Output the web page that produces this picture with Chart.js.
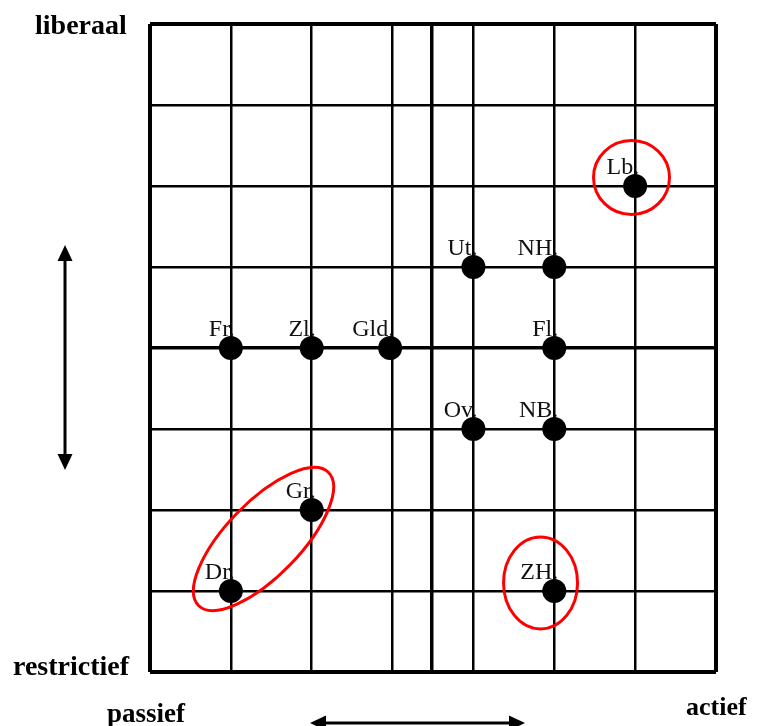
<!DOCTYPE html>
<html>
<head>
<meta charset="utf-8">
<script src="https://cdn.jsdelivr.net/npm/chart.js@4.4.0/dist/chart.umd.min.js"></script>
<style>
    body { margin: 0; background: #fff; }
    #wrap { position: relative; width: 758px; height: 726px; }
</style>
</head>
<body>
<div id="wrap"><canvas id="provincieChart" width="758" height="726"></canvas></div>
<script>
// provincies met hun positie: activiteit (passief -> actief), liberaliteit (restrictief -> liberaal)
const provincies = ['Lb.', 'Ut.', 'NH.', 'Fr.', 'Zl.', 'Gld.', 'Fl.', 'Ov.', 'NB.', 'Gr.', 'Dr.', 'ZH.'];
const activiteit = [6, 4, 5, 1, 2, 2.97, 5, 4, 5, 2, 1, 5];
const liberaliteit = [6, 5, 5, 4, 4, 4, 4, 3, 3, 2, 1, 1];

// rasterlijnen
const xLijnen = [0, 1, 2, 3, 3.48, 4, 5, 6, 7];
const yLijnen = [0, 1, 2, 3, 4, 5, 6, 7, 8];

const serif = '"Liberation Serif", "DejaVu Serif", serif';

// namen linksboven de punten
var labelPlugin = {
    id: 'labels',
    afterDatasetsDraw: function(chart) {
        var ctx = chart.ctx;
        var meta = chart.getDatasetMeta(0);
        ctx.save();
        ctx.font = '24px ' + serif;
        ctx.fillStyle = '#111';
        ctx.textAlign = 'right';
        ctx.textBaseline = 'alphabetic';
        meta.data.forEach(function(el, i) {
            ctx.fillText(provincies[i], el.x + 4, el.y - 12);
        });
        ctx.restore();
    }
};

// rode ellipsen rond Lb, ZH en Gr/Dr
var cirkelPlugin = {
    id: 'cirkels',
    afterDatasetsDraw: function(chart) {
        var ctx = chart.ctx;
        var xs = chart.scales.x, ys = chart.scales.y;
        var ellipsen = [
            { x: 5.955, y: 6.105, rx: 38, ry: 37, rot: 0 },
            { x: 4.83, y: 1.1, rx: 37, ry: 46, rot: 0 },
            { x: 1.404, y: 1.642, rx: 93, ry: 37, rot: -0.80 },
        ];
        ctx.save();
        ctx.strokeStyle = '#f00';
        ctx.lineWidth = 3;
        ellipsen.forEach(function(e) {
            ctx.beginPath();
            ctx.ellipse(xs.getPixelForValue(e.x), ys.getPixelForValue(e.y), e.rx, e.ry, e.rot, 0, Math.PI * 2);
            ctx.stroke();
        });
        ctx.restore();
    }
};

// astitels en dubbele pijlen
var assenPlugin = {
    id: 'assen',
    afterDraw: function(chart) {
        var ctx = chart.ctx;
        ctx.save();
        ctx.fillStyle = '#000';
        ctx.textAlign = 'left';
        ctx.textBaseline = 'alphabetic';
        ctx.font = 'bold 28px ' + serif;
        ctx.fillText('liberaal', 35, 34);
        ctx.fillText('restrictief', 13, 675);
        ctx.font = 'bold 27px ' + serif;
        ctx.fillText('passief', 107, 722);
        ctx.font = 'bold 26px ' + serif;
        ctx.fillText('actief', 686, 715);

        pijl(ctx, 65, 245, 65, 470);
        pijl(ctx, 310, 723, 525, 723);
        ctx.restore();
    }
};

function pijl(ctx, x1, y1, x2, y2) {
    var hoek = Math.atan2(y2 - y1, x2 - x1);
    var lengte = 16, breedte = 7.5;
    ctx.strokeStyle = '#000';
    ctx.lineWidth = 3;
    ctx.beginPath();
    ctx.moveTo(x1 + Math.cos(hoek) * lengte, y1 + Math.sin(hoek) * lengte);
    ctx.lineTo(x2 - Math.cos(hoek) * lengte, y2 - Math.sin(hoek) * lengte);
    ctx.stroke();
    [[x1, y1, hoek + Math.PI], [x2, y2, hoek]].forEach(function(p) {
        var a = p[2];
        ctx.beginPath();
        ctx.moveTo(p[0], p[1]);
        ctx.lineTo(p[0] - Math.cos(a) * lengte - Math.sin(a) * breedte, p[1] - Math.sin(a) * lengte + Math.cos(a) * breedte);
        ctx.lineTo(p[0] - Math.cos(a) * lengte + Math.sin(a) * breedte, p[1] - Math.sin(a) * lengte - Math.cos(a) * breedte);
        ctx.closePath();
        ctx.fill();
    });
}

function initChart() {
    const punten = provincies.map(function(p, i) {
        return { x: activiteit[i], y: liberaliteit[i] };
    });

    const config = {
        type: 'scatter',
        data: {
            labels: provincies,
            datasets: [{
                label: 'Provincies',
                data: punten,
                backgroundColor: '#000',
                borderWidth: 0,
                pointRadius: 12,
                pointHoverRadius: 12,
            }]
        },
        options: {
            responsive: false,
            animation: false,
            layout: {
                padding: { left: 150, top: 24, right: 42, bottom: 54 }
            },
            plugins: {
                legend: { display: false },
                tooltip: { enabled: false },
            },
            scales: {
                x: {
                    type: 'linear',
                    min: 0,
                    max: 7,
                    afterBuildTicks: function(scale) {
                        scale.ticks = xLijnen.map(function(v) { return { value: v }; });
                    },
                    ticks: { display: false },
                    border: { display: false },
                    grid: {
                        color: '#000',
                        drawTicks: false,
                        lineWidth: function(ctx) {
                            var v = ctx.tick ? ctx.tick.value : 1;
                            if (v === 0 || v === 7) return 4;
                            return v === 3.48 ? 3.5 : 2.5;
                        }
                    }
                },
                y: {
                    type: 'linear',
                    min: 0,
                    max: 8,
                    afterBuildTicks: function(scale) {
                        scale.ticks = yLijnen.map(function(v) { return { value: v }; });
                    },
                    ticks: { display: false },
                    border: { display: false },
                    grid: {
                        color: '#000',
                        drawTicks: false,
                        lineWidth: function(ctx) {
                            var v = ctx.tick ? ctx.tick.value : 1;
                            if (v === 0 || v === 8) return 4;
                            return v === 4 ? 3.5 : 2.5;
                        }
                    }
                }
            }
        },
        plugins: [labelPlugin, cirkelPlugin, assenPlugin]
    };

    new Chart(document.getElementById('provincieChart'), config);
}

initChart();
</script>
</body>
</html>
